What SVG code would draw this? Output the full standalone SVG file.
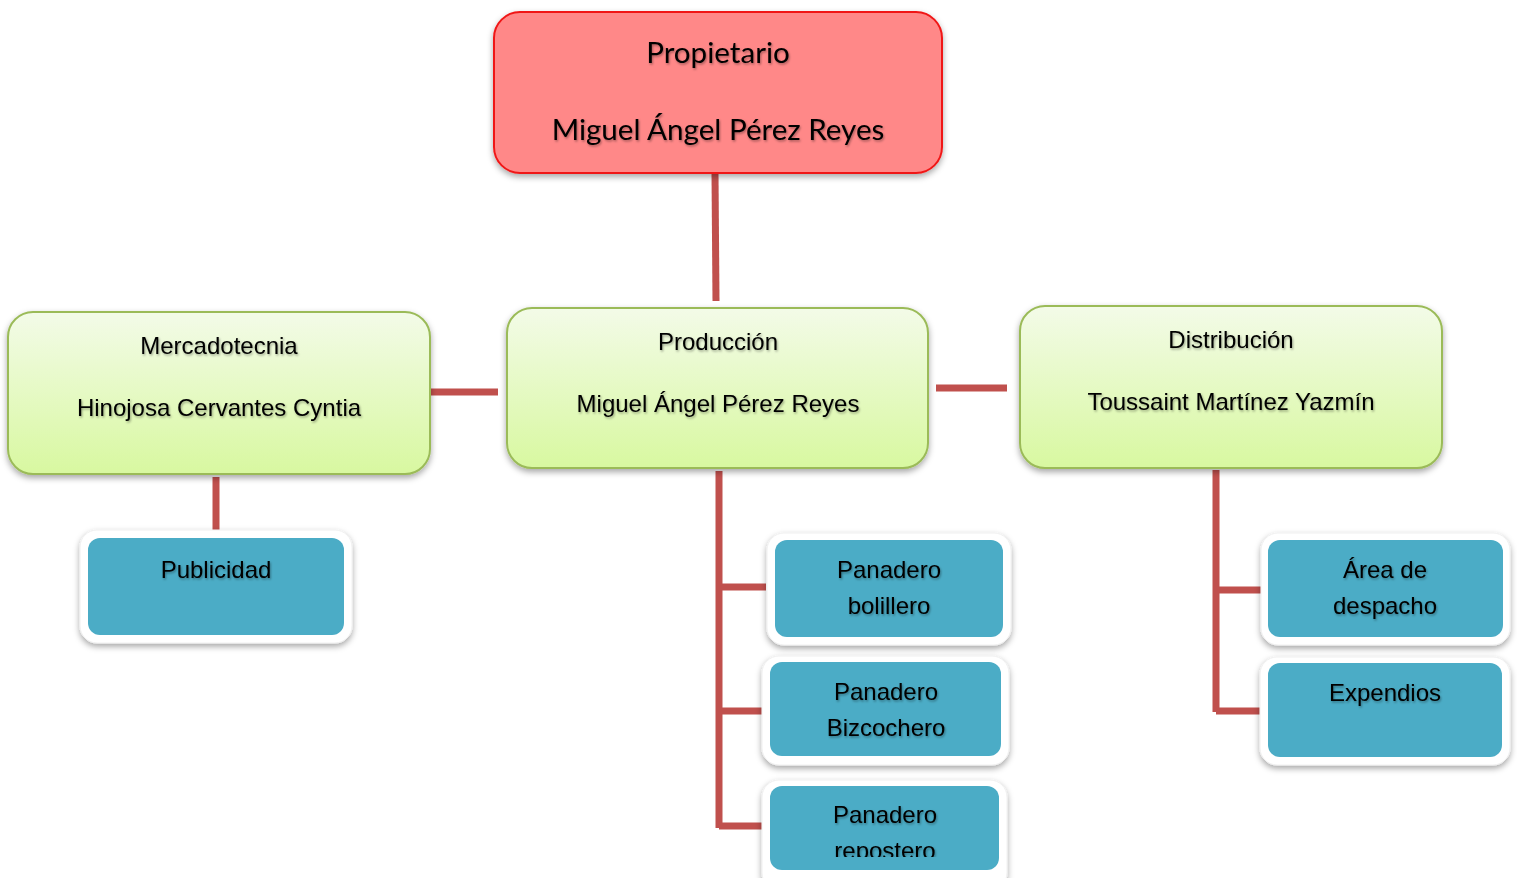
<svg xmlns="http://www.w3.org/2000/svg" width="1517" height="878" viewBox="0 0 1517 878">
<defs>
<linearGradient id="gGreen" x1="0" y1="0" x2="0" y2="1">
<stop offset="0" stop-color="#F3FBE8"/>
<stop offset="1" stop-color="#D8F8A0"/>
</linearGradient>
<filter id="shadow" x="-10%" y="-10%" width="120%" height="130%">
<feDropShadow dx="0" dy="3" stdDeviation="3" flood-color="#000" flood-opacity="0.35"/>
</filter>
<filter id="tshadow" x="-5%" y="-20%" width="110%" height="150%">
<feDropShadow dx="1" dy="1.5" stdDeviation="1" flood-color="#000" flood-opacity="0.35"/>
</filter>
<clipPath id="clipRep"><rect x="770" y="786" width="229" height="71"/></clipPath>
</defs>
<style>
.conn{stroke:#C0504D;stroke-width:7;fill:none;stroke-linecap:butt;stroke-linejoin:miter}
.green{fill:url(#gGreen);stroke:#9BBB59;stroke-width:2}
.outer{fill:#FFFFFF;stroke:#F0F0F0;stroke-width:1}
.teal{fill:#4BACC6}
.t{font-family:"Liberation Sans",Arial,sans-serif;font-size:24px;fill:#000;text-anchor:middle;filter:url(#tshadow)}
.tb{font-family:Lato,"Open Sans",sans-serif;font-size:29.6px;fill:#000;text-anchor:middle;filter:url(#tshadow)}
</style>
<g id="connectors">
<path class="conn" d="M715,173 L716,301"/>
<path class="conn" d="M430,392 L498,392"/>
<path class="conn" d="M936,388 L1007,388"/>
<path class="conn" d="M216,477 L216,539"/>
<path class="conn" d="M719,471 L719,828 M719,587 L766,587 M719,711 L764,711 M719,826 L766,826"/>
<path class="conn" d="M1216,470 L1216,712 M1216,590 L1262,590 M1216,711 L1262,711"/>
</g>
<g id="propietario">
<rect x="494" y="12" width="448" height="161" rx="26" fill="#FF8888" stroke="#F01818" stroke-width="2" filter="url(#shadow)"/>
<text class="tb" x="718" y="63">Propietario</text>
<text class="tb" x="718" y="140">Miguel Ángel Pérez Reyes</text>
</g>
<g id="mercadotecnia">
<rect class="green" x="8" y="312" width="422" height="162" rx="25" filter="url(#shadow)"/>
<text class="t" x="219" y="354">Mercadotecnia</text>
<text class="t" x="219" y="416">Hinojosa Cervantes Cyntia</text>
</g>
<g id="produccion">
<rect class="green" x="507" y="308" width="421" height="160" rx="25" filter="url(#shadow)"/>
<text class="t" x="718" y="350">Producción</text>
<text class="t" x="718" y="412">Miguel Ángel Pérez Reyes</text>
</g>
<g id="distribucion">
<rect class="green" x="1020" y="306" width="422" height="162" rx="25" filter="url(#shadow)"/>
<text class="t" x="1231" y="348">Distribución</text>
<text class="t" x="1231" y="410">Toussaint Martínez Yazmín</text>
</g>
<g id="publicidad">
<rect class="outer" x="80" y="530" width="272" height="113" rx="17" filter="url(#shadow)"/>
<rect class="teal" x="88" y="538" width="256" height="97" rx="12"/>
<text class="t" x="216" y="578">Publicidad</text>
</g>
<g id="panadero-bolillero">
<rect class="outer" x="767" y="533" width="244" height="112" rx="17" filter="url(#shadow)"/>
<rect class="teal" x="775" y="540" width="228" height="97" rx="12"/>
<text class="t" x="889" y="578">Panadero</text>
<text class="t" x="889" y="614">bolillero</text>
</g>
<g id="panadero-bizcochero">
<rect class="outer" x="762" y="656" width="247" height="109" rx="17" filter="url(#shadow)"/>
<rect class="teal" x="770" y="662" width="231" height="94" rx="12"/>
<text class="t" x="886" y="700">Panadero</text>
<text class="t" x="886" y="736">Bizcochero</text>
</g>
<g id="panadero-repostero">
<rect class="outer" x="762" y="780" width="245" height="110" rx="17" filter="url(#shadow)"/>
<rect class="teal" x="770" y="786" width="229" height="84" rx="12"/>
<text class="t" x="885" y="823">Panadero</text>
<g clip-path="url(#clipRep)"><text class="t" x="885" y="859">repostero</text></g>
</g>
<g id="area-despacho">
<rect class="outer" x="1261" y="533" width="249" height="112" rx="17" filter="url(#shadow)"/>
<rect class="teal" x="1268" y="540" width="235" height="97" rx="12"/>
<text class="t" x="1385" y="578">Área de</text>
<text class="t" x="1385" y="614">despacho</text>
</g>
<g id="expendios">
<rect class="outer" x="1260" y="657" width="250" height="108" rx="17" filter="url(#shadow)"/>
<rect class="teal" x="1268" y="663" width="234" height="94" rx="12"/>
<text class="t" x="1385" y="701">Expendios</text>
</g>
</svg>
